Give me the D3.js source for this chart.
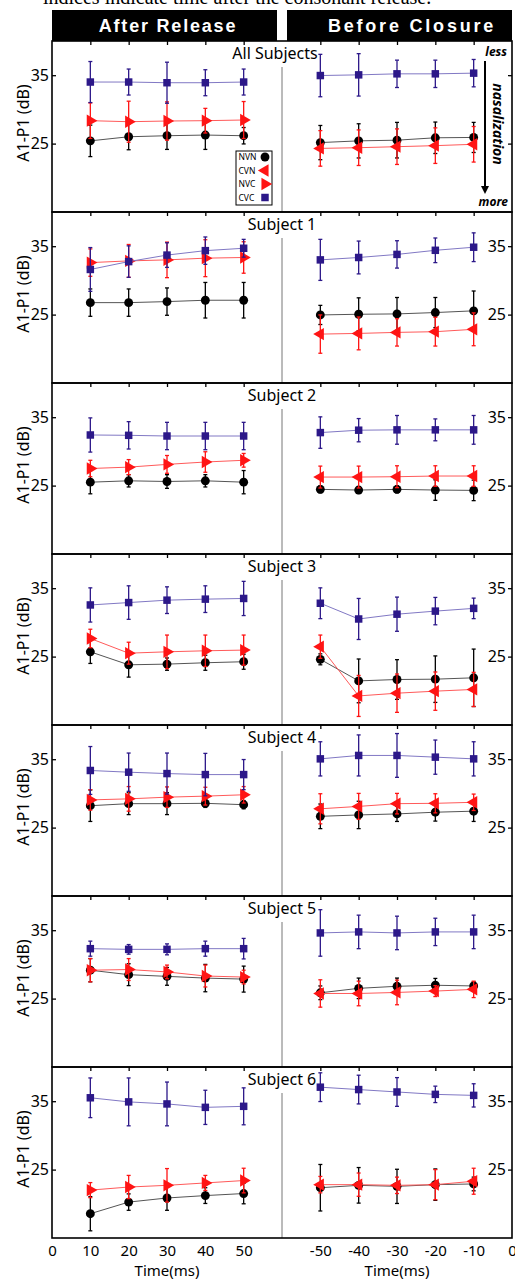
<!DOCTYPE html>
<html>
<head>
<meta charset="utf-8">
<script src="https://cdn.jsdelivr.net/npm/d3@7"></script>
<style>
body{margin:0;background:#fff;}
.canvas{width:515px;height:1279px;overflow:hidden;}
text{font-family:"Noto Sans",sans-serif;}
</style>
</head>
<body>
<div class="canvas"></div>
<script>
// ---- data ----
var panelNames = ['All Subjects','Subject 1','Subject 2','Subject 3','Subject 4','Subject 5','Subject 6'];
var headerLabels = ['After Release','Before Closure'];
var timesAfter = [10,20,30,40,50];
var timesBefore = [-50,-40,-30,-20,-10];
var xTickLabels = ['0','10','20','30','40','50','-50','-40','-30','-20','-10','0'];
var yTickValues = [25,35];
var legendLabels = ['NVN','CVN','NVC','CVC'];

// after release: one row per panel
var afterNVN = [
    [25.4,26.0,26.15,26.25,26.15],
    [26.75,26.75,26.9,27.1,27.1],
    [25.5,25.7,25.6,25.7,25.5],
    [25.7,23.8,23.9,24.1,24.25],
    [28.2,28.5,28.5,28.55,28.35],
    [29.15,28.5,28.25,28.0,27.85],
    [18.55,20.25,20.85,21.2,21.5]];
var afterNVNerr = [
    [2.3,1.9,2.0,2.1,1.2],
    [2.0,2.0,2.0,2.6,2.6],
    [1.7,0.9,1.0,0.9,1.7],
    [1.7,1.8,0.9,1.1,1.1],
    [2.3,1.6,1.6,0.6,0.6],
    [1.7,1.6,1.3,2.0,1.9],
    [2.5,1.2,1.8,1.15,1.5]];
var afterNVC = [
    [28.35,28.2,28.3,28.35,28.45],
    [32.6,32.85,33.0,33.25,33.35],
    [27.5,27.7,28.1,28.45,28.7],
    [27.65,25.5,25.7,25.85,25.95],
    [29.05,29.2,29.45,29.6,29.8],
    [29.15,29.25,28.9,28.3,28.15],
    [22.0,22.45,22.7,23.05,23.4]];
var afterNVCerr = [
    [2.6,3.0,2.8,1.8,2.7],
    [2.0,2.4,2.6,2.7,2.3],
    [1.2,1.1,1.3,1.5,1.0],
    [1.35,1.6,2.45,2.3,2.2],
    [1.5,1.8,1.5,1.3,1.2],
    [1.7,1.6,1.0,1.6,1.0],
    [1.1,1.7,2.45,1.1,1.8]];
var afterCVC = [
    [34.0,34.0,33.9,33.9,34.0],
    [31.6,32.75,33.7,34.35,34.7],
    [32.4,32.35,32.25,32.25,32.25],
    [32.55,32.9,33.25,33.4,33.5],
    [33.35,33.1,32.9,32.75,32.75],
    [32.3,32.2,32.2,32.3,32.3],
    [35.5,34.9,34.6,34.1,34.25]];
var afterCVCerr = [
    [3.0,1.9,3.0,1.9,1.9],
    [3.2,2.3,1.8,2.0,1.3],
    [2.5,2.0,2.0,2.0,2.0],
    [2.5,2.45,1.95,1.95,2.5],
    [3.5,2.8,3.0,3.1,2.2],
    [1.1,0.7,0.8,1.1,1.5],
    [2.9,3.5,3.2,2.5,2.7]];

// before closure: one row per panel
var beforeNVN = [
    [25.15,25.4,25.5,25.85,25.9],
    [24.95,25.05,25.1,25.3,25.55],
    [24.45,24.35,24.45,24.35,24.3],
    [24.6,21.45,21.65,21.7,21.9],
    [26.65,26.85,27.0,27.25,27.4],
    [25.85,26.5,26.8,26.95,26.85],
    [22.35,22.7,22.55,22.8,22.9]];
var beforeNVNerr = [
    [2.5,2.5,2.6,2.3,2.2],
    [1.4,2.4,2.4,2.2,2.9],
    [0.5,0.5,0.5,1.5,1.5],
    [0.8,3.2,2.9,3.4,4.2],
    [1.8,2.0,1.1,1.3,1.5],
    [1.0,1.5,1.2,1.0,0.6],
    [3.4,2.6,2.5,2.3,1.0]];
var beforeCVN = [
    [24.3,24.4,24.55,24.7,24.9],
    [22.15,22.25,22.4,22.5,22.85],
    [26.25,26.25,26.3,26.4,26.4],
    [26.45,19.25,19.65,19.95,20.2],
    [27.75,28.1,28.5,28.55,28.7],
    [25.75,25.75,25.9,26.1,26.35],
    [22.8,22.8,22.7,22.8,23.3]];
var beforeCVNerr = [
    [2.6,2.6,2.6,2.6,2.6],
    [2.8,2.4,2.0,2.1,2.4],
    [1.6,1.6,1.6,1.5,1.5],
    [1.7,3.0,2.8,2.8,2.5],
    [2.2,1.9,1.5,1.4,1.2],
    [2.0,1.8,1.8,0.8,1.2],
    [1.2,1.7,1.2,2.2,1.9]];
var beforeCVC = [
    [34.95,35.05,35.2,35.2,35.3],
    [33.0,33.35,33.8,34.4,34.85],
    [32.75,33.1,33.15,33.15,33.15],
    [32.8,30.5,31.2,31.65,32.05],
    [35.05,35.55,35.55,35.3,35.05],
    [34.6,34.75,34.6,34.75,34.75],
    [37.05,36.7,36.35,36.0,35.85]];
var beforeCVCerr = [
    [3.1,3.1,2.0,2.0,2.0],
    [3.0,2.4,2.0,1.8,2.1],
    [2.3,1.7,2.1,1.6,2.1],
    [2.25,3.0,2.5,2.0,1.5],
    [2.5,3.0,3.2,2.5,2.5],
    [3.4,2.45,2.45,2.0,2.45],
    [2.1,2.1,2.1,1.2,1.7]];

// ---- layout ----
var pageWidth = 515, pageHeight = 1279;
var margins = {t:41,l:52,r:3};
var plotWidth = pageWidth - margins.l - margins.r;
var panelHeight = 171;

var styles = {
    NVN:{color:'#000',line:'#555',symbol:d3.symbolCircle,size:62,rot:0},
    CVN:{color:'#ff1414',line:'#ff5a5a',symbol:d3.symbolTriangle,size:66,rot:-90},
    NVC:{color:'#ff1414',line:'#ff5a5a',symbol:d3.symbolTriangle,size:66,rot:90},
    CVC:{color:'#2c1889',line:'#8178c4',symbol:d3.symbolSquare,size:56,rot:0}
};

// one position axis: 0..60 after release, 60..120 before closure
var x = d3.scaleLinear().domain([0,120]).range([margins.l, margins.l+plotWidth]);
var posAfter = timesAfter.map(function(t){return t;});
var posBefore = timesBefore.map(function(t){return 120+t;});
var tickPos = [0].concat(posAfter, posBefore, [120]);

var svg = d3.select('.canvas')
    .append('svg')
    .attr('width',pageWidth)
    .attr('height',pageHeight);

// caption line cut at the top of the page
svg.append('text')
    .attr('x',43).attr('y',4)
    .style('font-family','"Liberation Serif",serif')
    .style('font-size','20px')
    .text('indices indicate time after the consonant release.');

// header bars
var header = svg.selectAll('.header').data(headerLabels).enter()
    .append('g').attr('class','header');
header.append('rect')
    .attr('x',function(d,i){return i==0 ? x(0) : x(60)+5;})
    .attr('y',10)
    .attr('width',function(d,i){return i==0 ? x(60)-5-x(0) : x(120)-x(60)-5;})
    .attr('height',margins.t-10)
    .style('fill','#000');
header.append('text')
    .attr('x',function(d,i){return i==0 ? x(30)+1 : x(90)+15;})
    .attr('y',32)
    .attr('text-anchor','middle')
    .style('font-family','"Liberation Sans",Arial,sans-serif')
    .style('font-weight','bold')
    .style('font-size','18px')
    .style('letter-spacing',function(d,i){return i==0 ? '1.8px' : '2.8px';})
    .style('fill','#fff')
    .text(function(d){return d;});

function drawSeries(g, y, positions, means, errs, key){
    var st = styles[key];
    var pts = positions.map(function(p,i){return {p:p,v:means[i],e:errs[i]};});
    var s = g.append('g').attr('class','series '+key);

    s.append('path')
        .datum(pts)
        .attr('d',d3.line().x(function(d){return x(d.p);}).y(function(d){return y(d.v);}))
        .style('fill','none')
        .style('stroke',st.line)
        .style('stroke-width',1);

    var bars = s.selectAll('.err').data(pts).enter().append('g').attr('class','err')
        .style('stroke',st.color).style('stroke-width',1.3);
    bars.append('line')
        .attr('x1',function(d){return x(d.p);}).attr('x2',function(d){return x(d.p);})
        .attr('y1',function(d){return y(d.v-d.e);}).attr('y2',function(d){return y(d.v+d.e);});
    bars.append('line')
        .attr('x1',function(d){return x(d.p)-2;}).attr('x2',function(d){return x(d.p)+2;})
        .attr('y1',function(d){return y(d.v-d.e);}).attr('y2',function(d){return y(d.v-d.e);});
    bars.append('line')
        .attr('x1',function(d){return x(d.p)-2;}).attr('x2',function(d){return x(d.p)+2;})
        .attr('y1',function(d){return y(d.v+d.e);}).attr('y2',function(d){return y(d.v+d.e);});

    s.selectAll('.mark').data(pts).enter().append('path')
        .attr('class','mark')
        .attr('d',d3.symbol().type(st.symbol).size(st.size))
        .attr('transform',function(d){return 'translate('+x(d.p)+','+y(d.v)+') rotate('+st.rot+')';})
        .style('fill',st.color);
}

panelNames.forEach(function(name,i){
    var top = margins.t + i*panelHeight;
    var y = d3.scaleLinear().domain([15,40]).range([top+panelHeight, top]);
    var g = svg.append('g').attr('class','panel');

    // divider between the two halves
    g.append('line')
        .attr('x1',x(60)).attr('x2',x(60))
        .attr('y1',top+26).attr('y2',top+panelHeight)
        .style('stroke','#777').style('stroke-width',1);

    // top ticks
    g.append('g')
        .attr('transform','translate(0,'+top+')')
        .call(d3.axisTop(x).tickValues(posAfter.concat(posBefore)).tickSizeInner(-4).tickSizeOuter(0).tickFormat(''))
        .call(function(a){a.select('.domain').remove();})
        .selectAll('line').style('stroke','#000').style('stroke-width',1.3);

    // left axis
    var la = g.append('g')
        .attr('transform','translate('+x(0)+',0)')
        .call(d3.axisLeft(y).tickValues(yTickValues).tickSizeInner(-4).tickSizeOuter(0).tickPadding(3));
    la.select('.domain').remove();
    la.selectAll('text').style('font-size','16px').style('fill','#000');
    la.selectAll('line').style('stroke','#000').style('stroke-width',1.3);

    // right axis, labels drawn inside the frame
    var ra = g.append('g')
        .attr('transform','translate('+x(120)+',0)')
        .call(d3.axisRight(y).tickValues(yTickValues).tickSizeInner(-4).tickSizeOuter(0)
            .tickFormat(i==0 ? '' : d3.format('d')));
    ra.select('.domain').remove();
    ra.selectAll('text').attr('x',-6).attr('text-anchor','end').style('font-size','16px').style('fill','#000');
    ra.selectAll('line').style('stroke','#000').style('stroke-width',1.3);

    // y label
    g.append('text')
        .attr('transform','translate(29,'+(top+82)+') rotate(-90)')
        .attr('text-anchor','middle')
        .style('font-size','16px')
        .text('A1-P1 (dB)');

    // panel title
    g.append('text')
        .attr('x',i==0 ? 275 : x(60))
        .attr('y',top+18)
        .attr('text-anchor','middle')
        .style('font-size','16px')
        .text(name);

    drawSeries(g, y, posAfter, afterNVN[i], afterNVNerr[i], 'NVN');
    drawSeries(g, y, posAfter, afterNVC[i], afterNVCerr[i], 'NVC');
    drawSeries(g, y, posAfter, afterCVC[i], afterCVCerr[i], 'CVC');
    drawSeries(g, y, posBefore, beforeNVN[i], beforeNVNerr[i], 'NVN');
    drawSeries(g, y, posBefore, beforeCVN[i], beforeCVNerr[i], 'CVN');
    drawSeries(g, y, posBefore, beforeCVC[i], beforeCVCerr[i], 'CVC');

    // frame
    g.append('rect')
        .attr('x',x(0)).attr('y',top)
        .attr('width',plotWidth).attr('height',panelHeight)
        .style('fill','none').style('stroke','#000').style('stroke-width',1.6);

    if(i==0){
        // legend
        var lg = g.append('g').attr('transform','translate(236,151)');
        lg.append('rect').attr('width',36).attr('height',54)
            .style('fill','#fff').style('stroke','#000').style('stroke-width',1);
        legendLabels.forEach(function(k,j){
            lg.append('text').attr('x',2.5).attr('y',9+j*13.5)
                .style('font-size','8.5px').text(k);
            lg.append('path')
                .attr('d',d3.symbol().type(styles[k].symbol).size(styles[k].size))
                .attr('transform','translate(29,'+(6+j*13.5)+') rotate('+styles[k].rot+')')
                .style('fill',styles[k].color);
        });

        // nasalization arrow
        g.append('text').attr('x',507).attr('y',top+15).attr('text-anchor','end')
            .style('font-size','12px').style('font-weight','bold').style('font-style','italic').text('less');
        g.append('text').attr('x',508).attr('y',top+165).attr('text-anchor','end')
            .style('font-size','12px').style('font-weight','bold').style('font-style','italic').text('more');
        g.append('line').attr('x1',485).attr('x2',485).attr('y1',top+20).attr('y2',top+146)
            .style('stroke','#000').style('stroke-width',2);
        g.append('path')
            .attr('d','M481,'+(top+145)+'L489,'+(top+145)+'L485,'+(top+153)+'Z')
            .style('fill','#000');
        g.append('text')
            .attr('transform','translate(493,'+(top+83)+') rotate(90)')
            .attr('text-anchor','middle')
            .style('font-size','14px').style('font-weight','bold').style('font-style','italic')
            .text('nasalization');
    }
});

// bottom axis
var bottomY = margins.t + panelNames.length*panelHeight;
var ba = svg.append('g')
    .attr('transform','translate(0,'+bottomY+')')
    .call(d3.axisBottom(x).tickValues(tickPos).tickSize(0).tickPadding(7)
        .tickFormat(function(d,i){return xTickLabels[i];}));
ba.select('.domain').remove();
ba.selectAll('text').style('font-size','15px').style('fill','#000');

svg.selectAll('.xlabel').data([30,90]).enter().append('text')
    .attr('class','xlabel')
    .attr('x',function(d){return x(d);})
    .attr('y',1276)
    .attr('text-anchor','middle')
    .style('font-size','15px')
    .text('Time(ms)');
</script>
</body>
</html>
